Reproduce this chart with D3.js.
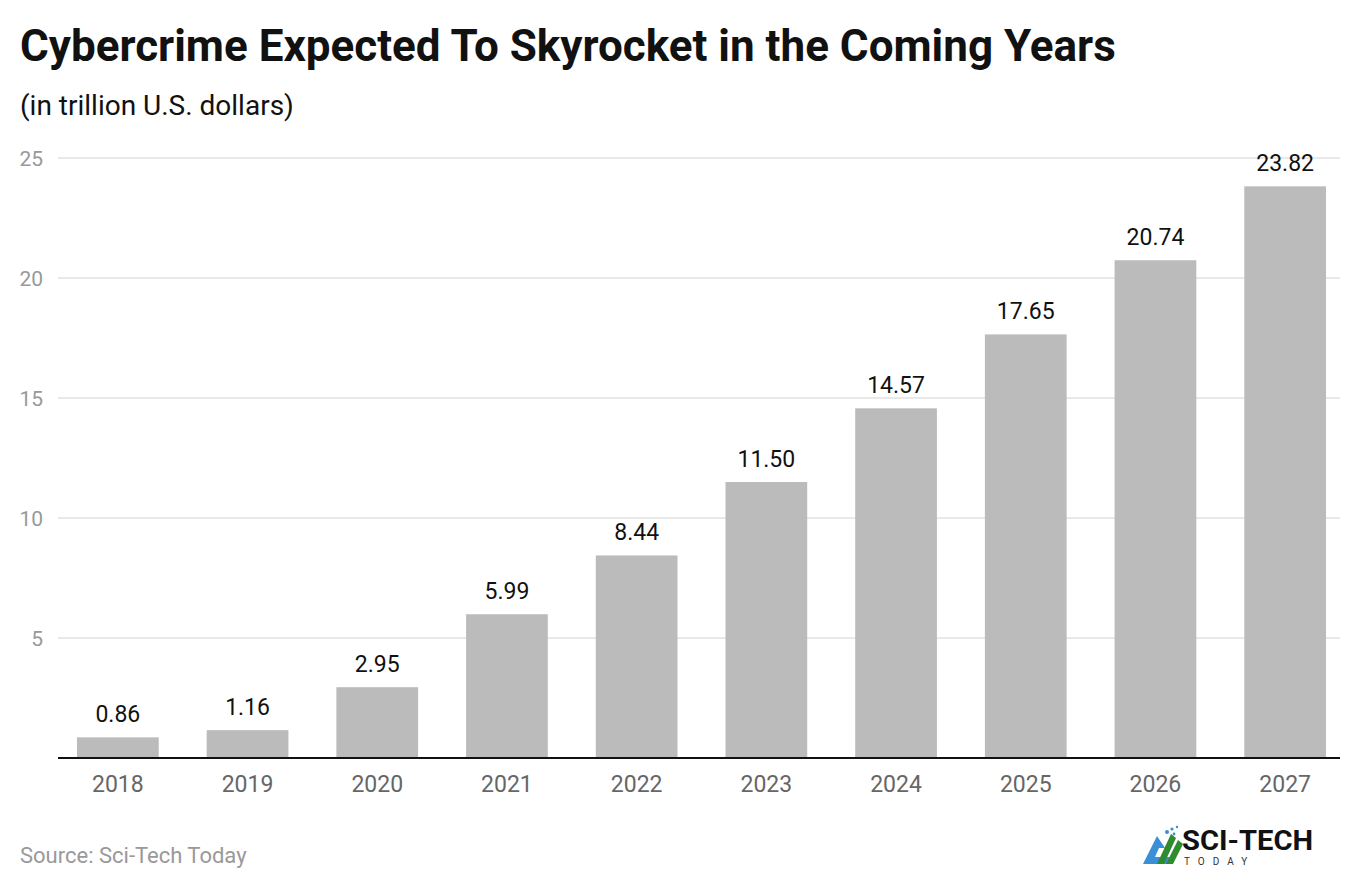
<!DOCTYPE html>
<html><head><meta charset="utf-8">
<script src="https://cdn.jsdelivr.net/npm/d3@7"></script>
<style>body{margin:0;background:#fff;}svg{display:block;font-family:Roboto,"Noto Sans",sans-serif;}</style>
</head><body>
<script>
const years = ["2018","2019","2020","2021","2022","2023","2024","2025","2026","2027"];
const values = [0.86,1.16,2.95,5.99,8.44,11.50,14.57,17.65,20.74,23.82];
const yTicks = [5,10,15,20,25];

const W = 1364, H = 890;
const svg = d3.select("body").append("svg").attr("width",W).attr("height",H);

svg.append("text").attr("x",20).attr("y",61).attr("font-size",44).attr("font-weight",700).attr("fill","#111")
  .text("Cybercrime Expected To Skyrocket in the Coming Years");
svg.append("text").attr("x",20).attr("y",115).attr("font-size",28).attr("fill","#111")
  .text("(in trillion U.S. dollars)");

const x = d3.scaleBand().domain(years).range([53,1350]).paddingInner(0.37).paddingOuter(0.185);
const y = d3.scaleLinear().domain([0,25]).range([758,158]);

const grid = svg.append("g");
grid.selectAll("line").data(yTicks).join("line")
  .attr("x1",58).attr("x2",1340).attr("y1",d=>y(d)).attr("y2",d=>y(d))
  .attr("stroke","#e2e2e2").attr("stroke-width",1.5);
grid.selectAll("text").data(yTicks).join("text")
  .attr("x",43).attr("y",d=>y(d)+8).attr("text-anchor","end").attr("font-size",21).attr("fill","#999")
  .text(d=>d);

svg.append("g").selectAll("rect").data(values).join("rect")
  .attr("x",(d,i)=>x(years[i])).attr("width",x.bandwidth())
  .attr("y",d=>y(d)).attr("height",d=>y(0)-y(d)).attr("fill","#bbbbbb");

svg.append("g").selectAll("text").data(values).join("text")
  .attr("x",(d,i)=>x(years[i])+x.bandwidth()/2).attr("y",d=>y(d)-15)
  .attr("text-anchor","middle").attr("font-size",23).attr("fill","#111")
  .text(d=>d.toFixed(2));

svg.append("line").attr("x1",58).attr("x2",1340).attr("y1",y(0)).attr("y2",y(0)).attr("stroke","#111").attr("stroke-width",2);

svg.append("g").selectAll("text").data(years).join("text")
  .attr("x",d=>x(d)+x.bandwidth()/2).attr("y",792).attr("text-anchor","middle")
  .attr("font-size",23).attr("fill","#666").text(d=>d);

svg.append("text").attr("x",20).attr("y",863).attr("font-size",22).attr("fill","#999").text("Source: Sci-Tech Today");

// logo
const lg = svg.append("g").attr("transform","translate(1143,826)");
lg.append("path").attr("d","M0,38 L14,10 L22,22 L16,22 L12,31 L26,31 L29,38 Z").attr("fill","#3a8fd6");
lg.append("path").attr("d","M14,38 L28,8 L33,12 L21,38 Z").attr("fill","#2e8b2e");
lg.append("path").attr("d","M23,38 L35,14 L40,18 L30,38 Z").attr("fill","#2e8b2e");
[[24,6,2],[29,3,1.6],[34,1,1.2],[31,8,1.4]].forEach(c=>lg.append("circle").attr("cx",c[0]).attr("cy",c[1]).attr("r",c[2]).attr("fill","#3a8fd6"));
lg.append("text").attr("x",39).attr("y",24).attr("font-size",28).attr("font-weight",700).attr("fill","#111")
  .attr("textLength",131).attr("lengthAdjust","spacingAndGlyphs").text("SCI-TECH");
lg.append("text").attr("x",41).attr("y",39).attr("font-size",10).attr("fill","#333").attr("letter-spacing",8).text("TODAY");
</script>
</body></html>
